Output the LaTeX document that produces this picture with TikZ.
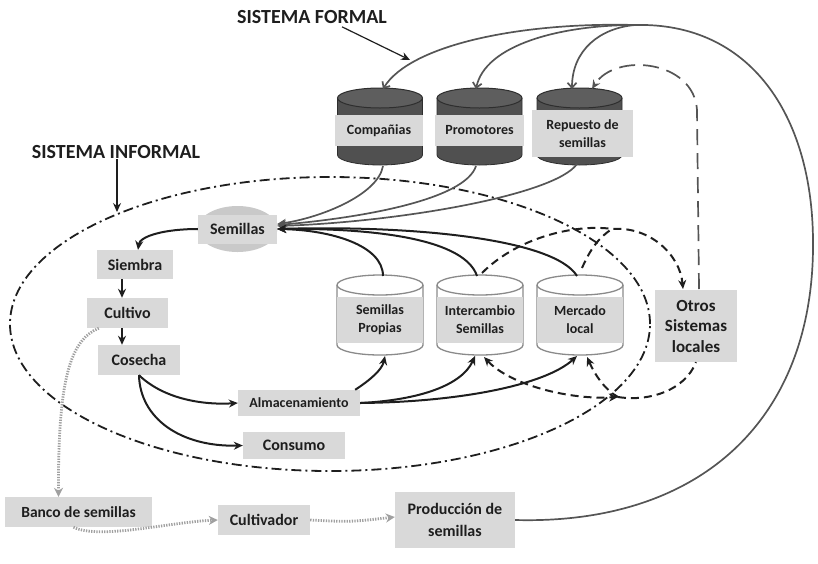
\documentclass[tikz,border=0pt]{standalone}
\usepackage{fontspec}
\setmainfont{Carlito}
\usetikzlibrary{arrows.meta,calc}
\definecolor{boxgray}{HTML}{D9D9D9}
\definecolor{ink}{HTML}{1E1E1E}
\definecolor{fgray}{HTML}{555555}
\definecolor{darkbody}{HTML}{505050}
\definecolor{darktop}{HTML}{5E5E5E}
\definecolor{darkline}{HTML}{2E2E2E}
\definecolor{cylgray}{HTML}{8A8A8A}
\definecolor{semell}{HTML}{C9C9C9}
\definecolor{dotgray}{HTML}{A0A0A0}
\begin{document}
\begin{tikzpicture}[x=1pt,y=-1pt,
  lbl/.style={fill=boxgray, inner sep=0pt, align=center, text=ink,
    font=\fontsize{16}{19}\selectfont\bfseries},
  small/.style={font=\fontsize{14}{18}\selectfont\bfseries},
  formal/.style={draw=fgray, line width=1.7pt},
  inf/.style={draw=ink, line width=2pt},
  dsh/.style={draw=ink, line width=2pt, dash pattern=on 8pt off 5pt},
  gdsh/.style={draw=fgray, line width=1.7pt, dash pattern=on 16pt off 8pt},
  dotg/.style={draw=dotgray, line width=2.8pt, dash pattern=on 1.3pt off 1.3pt},
  dashdotline/.style={draw=ink, line width=1.8pt, dash pattern=on 10pt off 4pt on 2pt off 4pt},
  arr/.style={-{Stealth[length=9pt,width=8pt]}},
  barbarr/.style={-{Straight Barb[length=5pt,width=9pt]}},
  title/.style={text=ink, font=\fontsize{20}{22}\selectfont\bfseries, inner sep=0pt}
]
\useasboundingbox (0,0) rectangle (818,563);

% informal system boundary
\draw[dashdotline] (330,324) ellipse[x radius=320pt, y radius=147pt];

% dark (formal) cylinders
\foreach \cx in {380,479.5,579.5}{
  \fill[darkbody] (\cx-42.5,98) -- (\cx-42.5,155) arc[start angle=180,end angle=360,x radius=42.5pt,y radius=10pt] -- (\cx+42.5,98) -- cycle;
  \draw[darkline, line width=0.8pt] (\cx-42.5,98) -- (\cx-42.5,155) arc[start angle=180,end angle=360,x radius=42.5pt,y radius=10pt] -- (\cx+42.5,98);
  \filldraw[fill=darktop, draw=darkline, line width=1pt] (\cx,98) ellipse[x radius=42.5pt, y radius=10pt];
}
% light (informal) cylinders
\foreach \cx in {380,480,580}{
  \filldraw[fill=white, draw=cylgray, line width=1.3pt] (\cx-43,285) -- (\cx-43,345) arc[start angle=180,end angle=360,x radius=43pt,y radius=10pt] -- (\cx+43,285);
  \draw[cylgray, line width=1.3pt] (\cx,285) ellipse[x radius=43pt, y radius=10pt];
}

% Semillas backdrop
\fill[semell] (237.5,229) ellipse[x radius=40pt, y radius=23pt];

% titles
\node[title] (sf) at (312,17) {SISTEMA FORMAL};
\node[title] (si) at (116,152) {SISTEMA INFORMAL};

% nodes
\node[lbl, small, minimum width=88, minimum height=31] (comp) at (379,130.5) {Compañias};
\node[lbl, small, minimum width=89, minimum height=31] (prom) at (479.5,130.5) {Promotores};
\node[lbl, small, minimum width=101, minimum height=47] (rep) at (582.5,133.5) {Repuesto de\\semillas};
\node[lbl, small, minimum width=86, minimum height=46] (prop) at (380,319.5) {Semillas\\Propias};
\node[lbl, small, minimum width=86, minimum height=46] (inter) at (480,319.5) {Intercambio\\Semillas};
\node[lbl, small, minimum width=86, minimum height=46] (merc) at (580,319.5) {Mercado\\local};
\node[lbl, minimum width=79, minimum height=29] (sem) at (237.5,229) {Semillas};
\node[lbl, minimum width=76, minimum height=29] (siembra) at (135,264.5) {Siembra};
\node[lbl, minimum width=81, minimum height=30] (cultivo) at (127.5,313) {Cultivo};
\node[lbl, minimum width=82, minimum height=30] (cosecha) at (139,360) {Cosecha};
\node[lbl, small, minimum width=122, minimum height=26] (almac) at (299,403) {Almacenamiento};
\node[lbl, minimum width=102, minimum height=27] (consumo) at (294,445.5) {Consumo};
\node[lbl, font=\fontsize{17}{20.5}\selectfont\bfseries, minimum width=82, minimum height=72] (otros) at (696,326) {Otros\\Sistemas\\locales};
\node[lbl, font=\fontsize{15.5}{18}\selectfont\bfseries, minimum width=147, minimum height=30] (banco) at (78.5,512) {Banco de semillas};
\node[lbl, minimum width=92, minimum height=30] (cultivador) at (264,520) {Cultivador};
\node[lbl, font=\fontsize{16}{22}\selectfont\bfseries, minimum width=120, minimum height=56] (prod) at (455,520) {Producción de\\semillas};

% named points on the cylinders
\coordinate (comp-top) at (383,89);
\coordinate (prom-top) at (476,89);
\coordinate (rep-top) at (572,89);
\coordinate (rep-top2) at (592,89);
\coordinate (comp-bot) at (383,166);
\coordinate (prom-bot) at (476,166);
\coordinate (rep-bot) at (577,164);
\coordinate (prop-top) at (383,276);
\coordinate (inter-top) at (477,276);
\coordinate (inter-top2) at (482,273);
\coordinate (merc-top) at (577,276);
\coordinate (merc-top2) at (582,268);
\coordinate (prop-bot) at (385,356);
\coordinate (inter-bot) at (475,356);
\coordinate (inter-bot2) at (484,357);
\coordinate (merc-bot) at (577,356);
\coordinate (merc-bot2) at (587,357);
\coordinate (junc) at (618,397);
\coordinate (dmeet) at (612,229);
\coordinate (otros-top) at (683,289);
\coordinate (otros-top2) at (699,289);
\coordinate (ftop) at (635,25);
\coordinate (fright) at (813,240);
\coordinate (sfend) at (410,60);
\coordinate (siend) at (117,212);
\coordinate (arrx) at (122,0);

% title arrows
\draw[ink, line width=1.2pt, arr] ($(sf.south)+(30,3)$) -- (sfend);
\draw[ink, line width=1.2pt, arr] ($(si.south)+(1,0)$) -- (siend);

% formal loop
\draw[formal] (prod.east) .. controls (700,525) and (815,420) .. (fright) .. controls (812,115) and (750,22) .. (ftop);
\draw[formal, barbarr] (ftop) .. controls (520,22) and (410,45) .. (comp-top);
\draw[formal, barbarr] (ftop) .. controls (560,25) and (485,45) .. (prom-top);
\draw[formal, barbarr] (ftop) .. controls (600,28) and (572,50) .. (rep-top);

% formal cylinders to Semillas
\draw[formal, arr] (comp-bot) .. controls (378,195) and (320,218) .. ($(sem.east)+(0,-5)$);
\draw[formal, arr] (prom-bot) .. controls (465,200) and (360,218) .. ($(sem.east)+(0,-4)$);
\draw[formal, arr] (rep-bot) .. controls (555,195) and (400,222) .. ($(sem.east)+(0,-3)$);

% informal cylinders to Semillas
\draw[inf, arr] (prop-top) .. controls (383,245) and (330,230) .. (sem.east);
\draw[inf, arr] (inter-top) .. controls (465,240) and (380,228) .. (sem.east);
\draw[inf, arr] (merc-top) .. controls (555,240) and (420,225) .. (sem.east);

% cycle
\draw[inf, arr] (sem.west) .. controls (165,229) and (140,236) .. ($(siembra.north)+(3,0)$);
\draw[inf, arr] (siembra.south -| arrx) -- (cultivo.north -| arrx);
\draw[inf, arr] (cultivo.south -| arrx) -- (cosecha.north -| arrx);
\draw[inf, arr] (cosecha.south) .. controls (165,400) and (205,405) .. (almac.west);
\draw[inf, arr] (cosecha.south) .. controls (140,418) and (180,447) .. (consumo.west);
\draw[inf, arr] ($(almac.north east)+(-5,0)$) .. controls (370,380) and (382,370) .. (prop-bot);
\draw[inf, arr] (almac.east) .. controls (420,400) and (462,385) .. (inter-bot);
\draw[inf, arr] (almac.east) .. controls (460,402) and (545,385) .. (merc-bot);

% dashed exchanges with other local systems
\draw[dsh, {Stealth[length=9pt,width=8pt]}-{Stealth[length=9pt,width=8pt]}] (inter-bot2) .. controls (510,385) and (570,400) .. (junc);
\draw[dsh, {Stealth[length=9pt,width=8pt]}-] (merc-bot2) .. controls (595,375) and (605,390) .. (junc);
\draw[dsh] (junc) .. controls (650,402) and (685,390) .. (otros.south);
\draw[dsh, arr] (inter-top2) .. controls (520,235) and (580,224) .. (dmeet) .. controls (650,226) and (680,255) .. (otros-top);
\draw[dsh] (merc-top2) .. controls (590,250) and (598,238) .. (dmeet);
\draw[gdsh, arr] (otros-top2) -- (697,110) .. controls (694,60) and (615,52) .. (rep-top2);

% seed bank route
\draw[dotg, -{Stealth[length=9pt,width=9pt,fill=dotgray]}] ($(cultivo.south west)+(12,0)$) .. controls (70,340) and (58,380) .. ($(banco.north)+(-20,0)$);
\draw[dotg, -{Stealth[length=9pt,width=9pt,fill=dotgray]}] ($(banco.south)+(-5,0)$) .. controls (100,540) and (170,522) .. (cultivador.west);
\draw[dotg, -{Stealth[length=9pt,width=9pt,fill=dotgray]}] (cultivador.east) .. controls (350,522) .. ($(prod.west)+(0,-3)$);
\end{tikzpicture}
\end{document}
